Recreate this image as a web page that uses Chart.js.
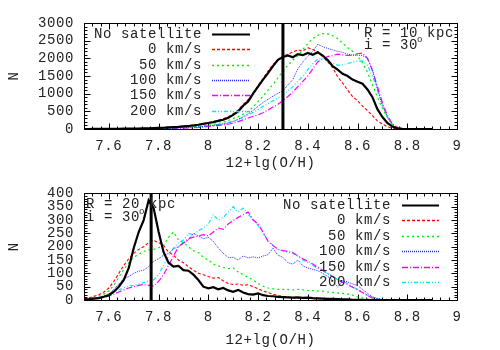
<!DOCTYPE html>
<html><head><meta charset="utf-8">
<script src="https://cdn.jsdelivr.net/npm/chart.js@4"></script>
<style>html,body{margin:0;padding:0;background:#fff;width:500px;height:350px;overflow:hidden}canvas{display:block}</style>
</head><body>
<canvas id="topChart" width="500" height="175"></canvas>
<canvas id="botChart" width="500" height="175"></canvas>
<script>
// ---- data ----
const bins = [7.50,7.52,7.54,7.56,7.58,7.60,7.62,7.64,7.66,7.68,7.70,
  7.72,7.74,7.76,7.78,7.80,7.82,7.84,7.86,7.88,7.90,
  7.92,7.94,7.96,7.98,8.00,8.02,8.04,8.06,8.08,8.10,
  8.12,8.14,8.16,8.18,8.20,8.22,8.24,8.26,8.28,8.30,
  8.32,8.34,8.36,8.38,8.40,8.42,8.44,8.46,8.48,8.50,
  8.52,8.54,8.56,8.58,8.60,8.62,8.64,8.66,8.68,8.70,
  8.72,8.74,8.76,8.78,8.80,8.82,8.84,8.86,8.88,8.90];
const xTickLabels = [7.6,7.8,8,8.2,8.4,8.6,8.8,9];
const seriesNames = ['No satellite','0 km/s','50 km/s','100 km/s','150 km/s','200 km/s'];

// top panel (R = 10 kpc)
const topNoSat = [0,0,2,3,3,5,5,6,8,10,12,
  14,16,20,24,30,36,44,52,60,72,
  85,100,120,145,170,195,230,260,320,400,
  500,660,780,1000,1200,1400,1580,1780,1960,2040,
  2080,2030,2120,2090,2150,2100,2170,2080,1950,1780,
  1680,1560,1500,1400,1340,1280,1120,900,560,340,
  170,70,20,5,0,0,0,0,0,0];
const topV0 = [0,1,2,3,4,5,6,8,10,12,14,
  17,20,24,28,34,40,48,56,66,78,
  92,110,130,155,180,210,245,290,350,430,
  540,690,830,1020,1230,1430,1640,1830,1960,2050,
  2120,2180,2240,2210,2300,2250,2180,2050,1900,1740,
  1480,1300,1100,920,800,650,520,380,230,140,
  60,25,8,2,0,0,0,0,0,0];
const topV50 = [0,0,1,2,3,4,5,6,7,8,10,
  12,14,16,19,22,26,30,36,42,50,
  58,68,80,94,110,130,160,195,240,300,
  350,420,500,620,780,930,1100,1260,1450,1640,
  1800,1950,2080,2250,2420,2560,2650,2700,2690,2640,
  2560,2430,2300,2200,2060,1880,1600,1250,900,580,
  330,130,40,10,0,0,0,0,0,0];
const topV100 = [0,0,1,1,2,3,3,4,5,6,7,
  8,9,11,13,15,18,21,25,30,36,
  42,50,60,72,86,100,120,145,175,210,
  270,340,430,530,640,750,840,930,1010,1080,
  1250,1400,1700,1900,2050,2200,2400,2330,2280,2240,
  2200,2170,2120,2090,2090,2080,2000,1680,1150,650,
  330,110,30,8,0,0,0,0,0,0];
const topV150 = [0,0,1,1,1,2,2,3,3,4,5,
  6,7,8,9,11,13,15,18,21,25,
  30,35,42,55,70,85,100,115,135,165,
  210,260,310,360,400,460,540,620,700,800,
  920,1050,1200,1350,1500,1700,1900,1980,2050,2080,
  2120,2100,2080,2090,2130,2150,2000,1650,1200,750,
  380,150,45,10,0,0,0,0,0,0];
const topV200 = [0,0,1,2,2,3,4,5,6,7,8,
  10,12,14,17,20,24,28,33,39,46,
  54,63,73,84,95,110,130,155,185,220,
  270,330,400,470,550,640,720,800,880,960,
  1080,1200,1350,1500,1680,1850,1980,2000,1920,1870,
  1800,1820,1850,1900,1920,1930,1800,1500,1100,700,
  350,130,40,10,0,0,0,0,0,0];

// bottom panel (R = 20 kpc)
const botNoSat = [2,3,5,7,12,18,31,50,75,120,195,
  255,300,374,345,256,180,140,125,128,112,
  110,95,75,50,44,48,40,45,36,31,
  38,28,22,20,25,18,15,14,12,11,
  10,9,10,8,9,7,6,5,4,4,
  3,2,2,1,1,1,0,0,0,0,
  0,0,0,0,0,0,0,0,0,0];
const botV0 = [4,8,14,20,30,45,70,100,130,155,175,
  190,200,215,224,215,205,180,168,150,140,
  125,112,100,95,88,82,84,72,62,58,
  60,55,57,50,42,34,28,22,17,13,
  11,9,8,7,6,5,5,4,3,3,
  2,2,2,1,1,1,1,0,0,0,
  0,0,0,0,0,0,0,0,0,0];
const botV50 = [2,5,10,15,22,35,55,85,115,140,160,
  172,182,188,190,196,205,235,255,225,215,
  200,185,178,160,150,135,128,122,118,120,
  105,95,85,75,62,52,45,42,40,40,
  40,38,40,38,36,35,34,33,30,28,
  26,25,22,18,12,8,5,3,2,1,
  0,0,0,0,0,0,0,0,0,0];
const botV100 = [2,4,7,10,15,22,40,60,80,88,100,
  108,112,125,145,155,168,175,192,200,212,
  225,250,240,230,235,220,195,175,160,160,
  150,165,158,162,158,165,170,195,168,160,
  140,135,150,128,120,115,110,100,88,75,
  48,72,68,60,55,40,25,12,6,2,
  0,0,0,0,0,0,0,0,0,0];
const botV150 = [1,2,4,7,10,15,22,30,38,45,50,
  55,58,55,52,70,95,130,165,200,215,
  230,236,240,245,240,255,270,265,285,298,
  310,320,330,300,285,255,220,205,190,185,
  182,178,165,155,145,135,122,112,100,88,
  76,66,58,48,38,28,16,8,3,0,
  0,0,0,0,0,0,0,0,0,0];
const botV200 = [1,3,6,10,15,22,30,38,45,52,55,
  60,65,72,75,95,130,165,195,215,225,
  250,245,260,270,285,320,300,310,330,350,
  330,345,320,305,280,250,225,205,190,185,
  180,175,165,150,140,130,120,110,98,88,
  78,70,62,50,40,30,18,10,5,1,
  0,0,0,0,0,0,0,0,0,0];

const topMarker = 8.30;
const botMarker = 7.77;
const topYMax = 3000, topYStep = 500;
const botYMax = 400, botYStep = 50;
const topNotes = ['R = 10 kpc', 'i = 30'];
const botNotes = ['R = 20 kpc', 'i = 30'];

// ---- styles ----
const FONT = "'Liberation Mono', 'DejaVu Sans Mono', monospace";
const SPACING = '0.6px';
Chart.defaults.font.family = FONT;
Chart.defaults.font.size = 14;
Chart.defaults.color = '#222';
const STY = [
  {color:'#000000', width:2.2, dash:[]},
  {color:'#ff0000', width:1.1, dash:[3,2]},
  {color:'#00ee00', width:1.2, dash:[2,3]},
  {color:'#2a2aff', width:1, dash:[1,1]},
  {color:'#ff00ff', width:1.2, dash:[6,2,1,2]},
  {color:'#00e8ff', width:1.2, dash:[4,2,1,2,1,2]}
];

const framePlugin = {
  id: 'frame',
  beforeDraw(chart) {
    try { chart.ctx.letterSpacing = SPACING; } catch (e) {}
  },
  beforeDatasetsDraw(chart) {
    const o = chart.options.plugins.frame;
    const {ctx, chartArea: a, scales: {x, y}} = chart;
    ctx.save();
    ctx.strokeStyle = '#000'; ctx.lineWidth = 1;
    const L = Math.round(a.left) + 0.5, R = Math.round(a.right) + 0.5;
    const T = Math.round(a.top) + 0.5, B = Math.round(a.bottom) + 0.5;
    ctx.strokeRect(L, T, R - L, B - T);
    ctx.beginPath();
    const nx = 45;
    for (let k = 1; k < nx; k++) {
      const v = 7.5 + k * 1.5 / nx;
      const px = Math.round(x.getPixelForValue(v)) + 0.5;
      const len = ((k - 3) % 6 === 0) ? 6 : 3;
      ctx.moveTo(px, B); ctx.lineTo(px, B - len);
      ctx.moveTo(px, T); ctx.lineTo(px, T + len);
    }
    const ny = o.yMinorCount;
    for (let k = 1; k < ny; k++) {
      const v = k * o.yMax / ny;
      const py = Math.round(y.getPixelForValue(v)) + 0.5;
      const len = (k % o.yMinorPer === 0) ? 6 : 3;
      ctx.moveTo(L, py); ctx.lineTo(L + len, py);
      ctx.moveTo(R, py); ctx.lineTo(R - len, py);
    }
    ctx.stroke();
    ctx.restore();
  },
  afterDatasetsDraw(chart) {
    const o = chart.options.plugins.frame;
    const {ctx} = chart;
    ctx.save();
    try { ctx.letterSpacing = SPACING; } catch (e) {}
    ctx.fillStyle = '#222';
    ctx.font = '14px ' + FONT;
    ctx.textBaseline = 'middle'; ctx.textAlign = 'left';
    ctx.fillText(o.notes[0], o.noteX, o.noteY0);
    ctx.fillText(o.notes[1], o.noteX, o.noteY1);
    const w = ctx.measureText(o.notes[1]).width;
    ctx.font = '9px ' + FONT;
    ctx.fillText('o', o.noteX + w - 1, o.noteY1 - 5);
    ctx.font = '14px ' + FONT;
    ctx.textAlign = 'right';
    let row = 0;
    chart.data.datasets.forEach(ds => {
      if (!ds.label) return;
      const yy = Math.round(o.legY0 + row * o.legDy);
      ctx.fillStyle = '#222';
      ctx.fillText(ds.label, o.legTextX, yy);
      ctx.save();
      ctx.strokeStyle = ds.borderColor;
      ctx.lineWidth = Math.max(ds.borderWidth, 1.3);
      ctx.setLineDash(ds.borderDash || []);
      ctx.beginPath();
      ctx.moveTo(o.legX0, yy + 0.5); ctx.lineTo(o.legX1, yy + 0.5);
      ctx.stroke();
      ctx.restore();
      row++;
    });
    ctx.restore();
  }
};

function makeChart(id, series, marker, yMax, yStep, L) {
  const datasets = series.map((vals, i) => ({
    label: seriesNames[i],
    data: vals.map((v, j) => ({x: bins[j], y: v})),
    borderColor: STY[i].color, borderWidth: STY[i].width, borderDash: STY[i].dash,
    pointRadius: 0, fill: false, tension: 0, order: 1
  }));
  datasets.push({
    data: [{x: marker, y: 0}, {x: marker, y: yMax}],
    borderColor: '#000', borderWidth: 3, pointRadius: 0, fill: false, order: -1
  });
  return new Chart(document.getElementById(id), {
    type: 'line',
    data: {datasets},
    plugins: [framePlugin],
    options: {
      responsive: false, animation: false, devicePixelRatio: 1,
      layout: {padding: {left: 0, right: 43, top: L.top, bottom: 0}},
      plugins: {
        legend: {display: false}, tooltip: {enabled: false},
        frame: Object.assign({yMax: yMax}, L.frame)
      },
      scales: {
        x: {
          type: 'linear', min: 7.5, max: 9,
          grid: {display: false, drawTicks: false}, border: {display: false},
          afterBuildTicks: ax => { ax.ticks = xTickLabels.map(v => ({value: v})); },
          afterFit: ax => { ax.height = L.xh; },
          ticks: {padding: L.tickPad, maxRotation: 0, autoSkip: false, callback: v => String(v)},
          title: {display: true, text: '12+lg(O/H)', padding: {top: 0, bottom: L.titlePad}}
        },
        y: {
          min: 0, max: yMax,
          grid: {display: false, drawTicks: false}, border: {display: false},
          afterFit: ax => { ax.width = 84; },
          ticks: {stepSize: yStep, padding: 10, autoSkip: false, callback: v => String(v)},
          title: {display: true, text: 'N', padding: {top: 6, bottom: 0}}
        }
      }
    }
  });
}

makeChart('topChart', [topNoSat, topV0, topV50, topV100, topV150, topV200], topMarker, topYMax, topYStep,
  {top: 23, xh: 46, tickPad: 9, titlePad: 3,
   frame: {yMinorCount: 30, yMinorPer: 5, notes: topNotes, noteX: 364, noteY0: 33, noteY1: 45,
           legTextX: 202, legX0: 212, legX1: 250, legY0: 34, legDy: 15.3}});
makeChart('botChart', [botNoSat, botV0, botV50, botV100, botV150, botV200], botMarker, botYMax, botYStep,
  {top: 18, xh: 50, tickPad: 9, titlePad: 1,
   frame: {yMinorCount: 40, yMinorPer: 5, notes: botNotes, noteX: 86, noteY0: 29, noteY1: 42,
           legTextX: 391, legX0: 402, legX1: 439, legY0: 30, legDy: 15.4}});
</script>
</body></html>
